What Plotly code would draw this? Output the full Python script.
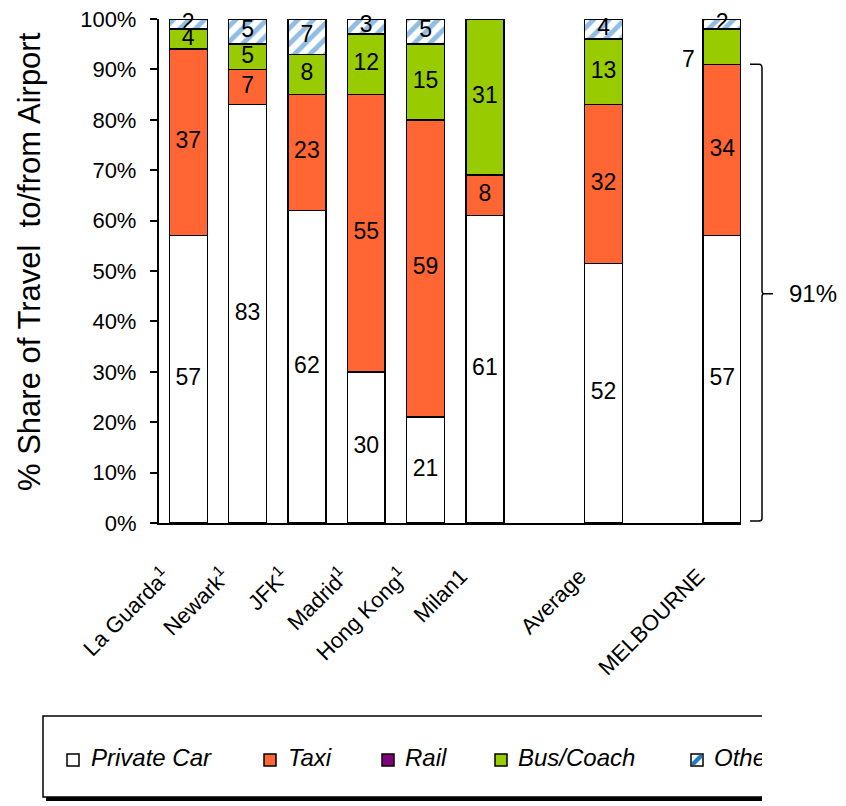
import numpy as np
import plotly.graph_objects as go

W, H = 846, 806
OFF = 8  # page body margin in the browser

# ---------------- data ----------------
categories = ["La Guarda<sup>1</sup>", "Newark<sup>1</sup>", "JFK<sup>1</sup>",
              "Madrid<sup>1</sup>", "Hong Kong<sup>1</sup>", "Milan1",
              "Average", "MELBOURNE"]
axis_order = categories[:6] + [" ", "Average", "  ", "MELBOURNE"]

private_car = [57, 83, 62, 30, 21, 61, 51.5, 57]
taxi = [37, 7, 23, 55, 59, 8, 31.5, 34]
rail = [0, 0, 0, 0, 0, 0, 0, 0]
bus_coach = [4, 5, 8, 12, 15, 31, 13, 7]
other = [2, 5, 7, 3, 5, 0, 4, 2]

series_names = ["Private Car", "Taxi", "Rail", "Bus/Coach", "Other"]
y_tick_vals = [0, 10, 20, 30, 40, 50, 60, 70, 80, 90, 100]
y_tick_text = ["0%", "10%", "20%", "30%", "40%", "50%", "60%", "70%", "80%", "90%", "100%"]
y_title = "% Share of Travel\u00a0 to/from Airport"

# ---------------- style ----------------
FONT = "Liberation Sans, Arial, sans-serif"
colors = ["white", "#FF6633", "#800080", "#99CC00", "white"]
OTHER_BLUE = "#1F7BC8"

def px_x(p):
    return (p - OFF) / W

def px_y(p):
    return 1 - (p - OFF) / H

vals = np.array([private_car, taxi, rail, bus_coach, other], dtype=float)
tops = vals.cumsum(axis=0)
mids = tops - vals / 2

fig = go.Figure()
for k, name in enumerate(series_names):
    marker = dict(color=colors[k], line=dict(color="black", width=1.5))
    if name == "Other":
        marker["pattern"] = dict(shape="/", fgcolor=OTHER_BLUE, bgcolor="white",
                                 size=11, solidity=0.45)
    if name == "Rail":
        marker["line"] = dict(color="black", width=0)
    fig.add_bar(x=categories, y=vals[k], name=name, marker=marker,
                hoverinfo="skip", showlegend=False)

# value labels (centre of each segment)
mel = categories.index("MELBOURNE")
bus_k = series_names.index("Bus/Coach")
lx, ly, lt = [], [], []
for k in range(len(series_names)):
    for j, c in enumerate(categories):
        v = vals[k, j]
        if v <= 0 or (k == bus_k and j == mel):
            continue
        lx.append(c)
        ly.append(mids[k, j])
        lt.append(str(int(v + 0.5)))
fig.add_scatter(x=lx, y=ly, text=lt, mode="text", textposition="middle center",
                textfont=dict(family=FONT, size=23, color="black"),
                cliponaxis=False, hoverinfo="skip", showlegend=False)

annotations = []
# Melbourne bus label sits outside the bar, to its left
annotations.append(dict(x="MELBOURNE", y=tops[1, mel], xref="x", yref="y",
                        text=str(int(vals[bus_k, mel])), showarrow=False,
                        xanchor="center", yanchor="middle", xshift=-34, yshift=5,
                        font=dict(family=FONT, size=23, color="black")))

# bracket for Melbourne car + taxi share
share = tops[1, mel]
mid = share / 2
bx0, bx1, btk = px_x(750), px_x(762), px_x(773)
bc = px_x(764)
path = (f"M {bx0},{share} L {px_x(759)},{share} Q {bx1},{share} {bx1},{share-0.8} "
        f"L {bx1},{mid+0.6} Q {bx1},{mid} {bc},{mid} L {btk},{mid} "
        f"M {bc},{mid} Q {bx1},{mid} {bx1},{mid-0.6} L {bx1},{0.9} "
        f"Q {bx1},{0.4} {px_x(759)},{0.4} L {bx0},{0.4}")
shapes = [dict(type="path", xref="paper", yref="y", path=path,
               line=dict(color="black", width=1.5))]
annotations.append(dict(x=px_x(787), y=mid, xref="paper", yref="y",
                        text=f"{int(share)}%", showarrow=False,
                        xanchor="left", yanchor="middle",
                        font=dict(family=FONT, size=24, color="black")))

# y axis title
annotations.append(dict(x=px_x(30), y=px_y(262), xref="paper", yref="paper",
                        text=y_title, textangle=-90, showarrow=False,
                        xanchor="center", yanchor="middle",
                        font=dict(family=FONT, size=31, color="black")))

# ---------------- manual legend ----------------
leg_sw = [73, 270, 388, 501, 697]
leg_tx = [91, 288, 405, 518, 714]
leg_y = 760
shapes.append(dict(type="path", xref="paper", yref="paper",
                   path=f"M {px_x(762)},{px_y(716)} L {px_x(43)},{px_y(716)} "
                        f"L {px_x(43)},{px_y(797)} L {px_x(762)},{px_y(797)}",
                   line=dict(color="black", width=1.5)))
shapes.append(dict(type="rect", xref="paper", yref="paper",
                   x0=px_x(46), x1=px_x(762), y0=px_y(801), y1=px_y(797),
                   fillcolor="black", line=dict(width=0)))
for k, c in enumerate(leg_sw):
    shapes.append(dict(type="rect", xref="x2", yref="y2", x0=c - 6, x1=c + 6,
                       y0=leg_y - 6, y1=leg_y + 6, fillcolor=colors[k],
                       line=dict(color="black", width=1.5), layer="above"))
    if series_names[k] == "Other":
        shapes.append(dict(type="path", xref="x2", yref="y2",
                           path=f"M {c-5},{leg_y+2} L {c+2},{leg_y-5} L {c+5},{leg_y-5} "
                                f"L {c+5},{leg_y-2} L {c-2},{leg_y+5} L {c-5},{leg_y+5} Z",
                           fillcolor=OTHER_BLUE, line=dict(width=0), layer="above"))
fig.add_scatter(x=leg_tx, y=[leg_y] * 5, text=series_names, mode="text",
                textposition="middle right", xaxis="x2", yaxis="y2",
                textfont=dict(family=FONT, size=24, color="black", style="italic"),
                cliponaxis=True, hoverinfo="skip", showlegend=False)

fig.update_layout(
    width=W, height=H, margin=dict(l=0, r=0, t=0, b=0, autoexpand=False),
    barmode="stack", bargap=0.36, showlegend=False,
    plot_bgcolor="white", paper_bgcolor="white",
    font=dict(family=FONT, color="black"),
    xaxis=dict(domain=[px_x(158.6), px_x(741)], type="category",
               categoryorder="array", categoryarray=axis_order,
               range=[-0.5, 9.317], showline=True, linecolor="black", linewidth=1.5,
               ticks="", tickangle=-45, tickfont=dict(size=22, family=FONT),
               ticklabelshift=-24, ticklabelstandoff=30, ticklabeloverflow="allow",
               showgrid=False, zeroline=False, automargin=False, anchor="y"),
    yaxis=dict(domain=[px_y(523), px_y(19)], range=[0, 100],
               tickmode="array", tickvals=y_tick_vals, ticktext=y_tick_text,
               ticks="outside", ticklen=7, tickwidth=1.5, tickcolor="black",
               showline=True, linecolor="black", linewidth=1.5,
               tickfont=dict(size=22, family=FONT), ticklabelstandoff=9,
               ticklabeloverflow="allow",
               showgrid=False, zeroline=False, automargin=False, anchor="x"),
    xaxis2=dict(domain=[px_x(43), px_x(762)], range=[43, 762], visible=False,
                anchor="y2", fixedrange=True),
    yaxis2=dict(domain=[px_y(800), px_y(716)], range=[800, 716], visible=False,
                anchor="x2", fixedrange=True),
    shapes=shapes, annotations=annotations,
)

fig.write_html("out.html")
